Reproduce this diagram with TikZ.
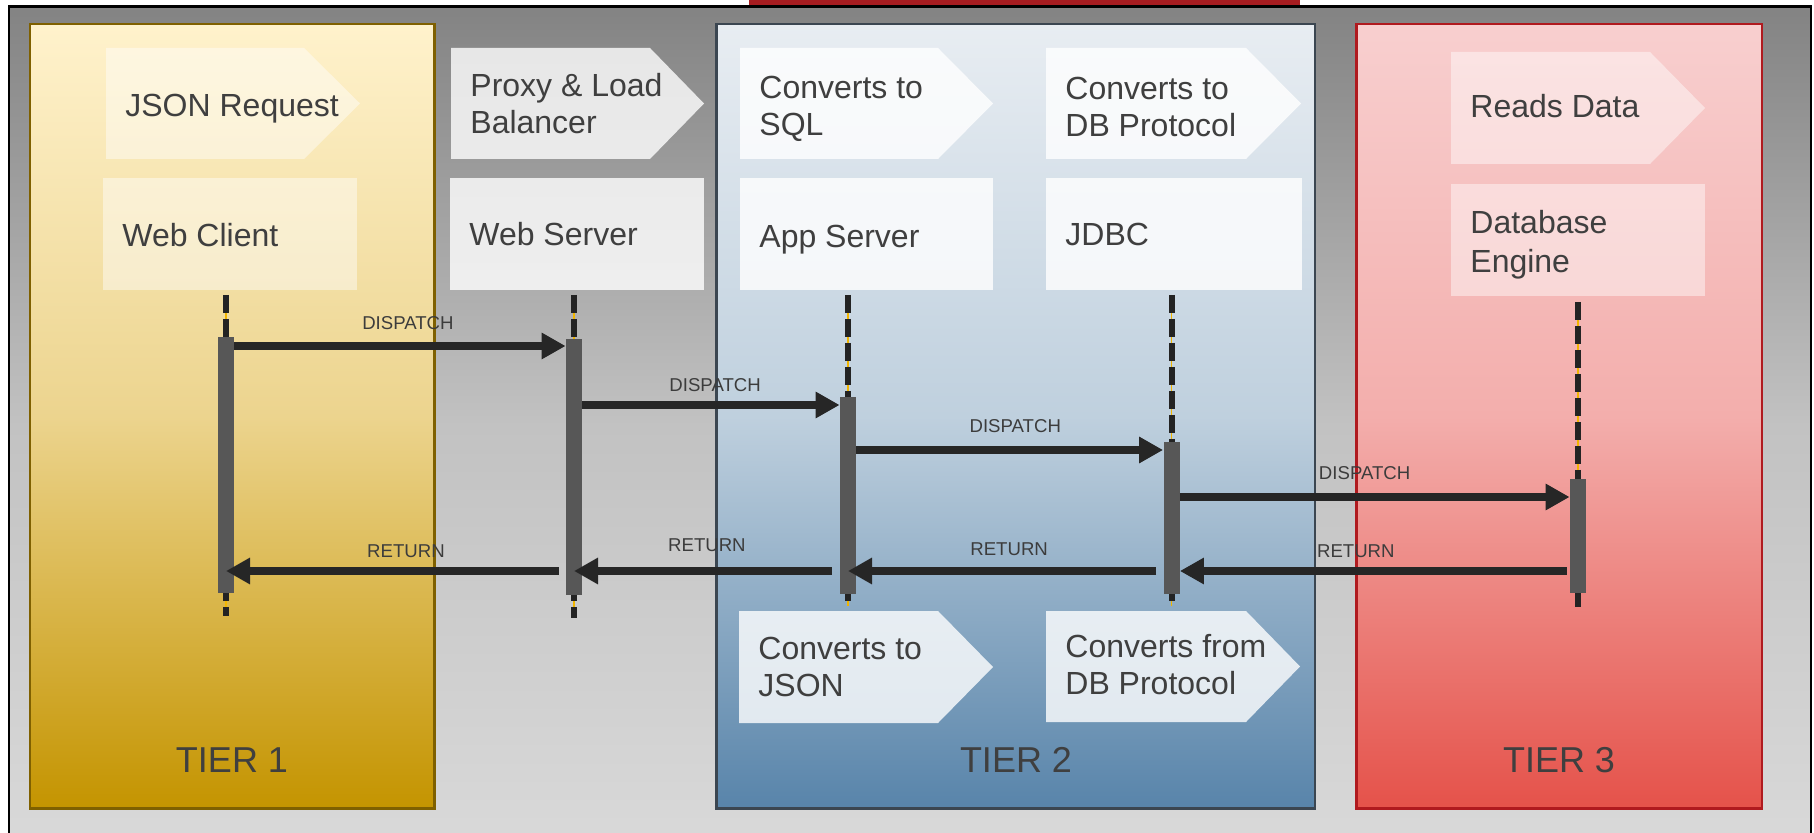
\documentclass[tikz,border=0pt]{standalone}
\usepackage{fontspec}
\setmainfont{Liberation Sans}
\usetikzlibrary{arrows.meta,calc}

\definecolor{bgtop}{HTML}{838383}
\definecolor{bgmid}{HTML}{C2C2C2}
\definecolor{bgbot}{HTML}{D9D9D9}
\definecolor{bandred}{HTML}{A61C20}
\definecolor{tOneTop}{HTML}{FFF2CC}
\definecolor{tOneMid}{HTML}{ECD48E}
\definecolor{tOneBot}{HTML}{C49400}
\definecolor{tOneLine}{HTML}{7F6000}
\definecolor{tTwoTop}{HTML}{E8EDF2}
\definecolor{tTwoMid}{HTML}{BFD0DE}
\definecolor{tTwoBot}{HTML}{5884AA}
\definecolor{tTwoLine}{HTML}{3B4651}
\definecolor{tThreeTop}{HTML}{F8CFCF}
\definecolor{tThreeMid}{HTML}{F3AEAC}
\definecolor{tThreeBot}{HTML}{E5524A}
\definecolor{tThreeLine}{HTML}{B01A1F}
\definecolor{txtcol}{HTML}{3F3F3F}
\definecolor{lblcol}{HTML}{3C3C3C}
\definecolor{arrowcol}{HTML}{262626}
\definecolor{barcol}{HTML}{575757}
\definecolor{dashcol}{HTML}{232323}
\definecolor{lifeyellow}{HTML}{F2B600}

% chevron outline: left, shoulder, tip, top, bottom, fill style
\newcommand\chevron[6]{\fill[#6] (#1,#4) -- (#2,#4) -- (#3,{(#4+#5)/2}) -- (#2,#5) -- (#1,#5) -- cycle;}

\begin{document}
\begin{tikzpicture}[x=0.5pt,y=-0.5pt,
  every node/.style={inner sep=0pt},
  txt/.style={font=\fontsize{16pt}{18.5pt}\selectfont, text=txtcol, align=left, anchor=west},
  softfill/.style={fill=white, fill opacity=0.45},
  strongfill/.style={fill=white, fill opacity=0.8},
  tierone/.style={line width=1.25pt, draw=tOneLine, top color=tOneTop, bottom color=tOneBot, middle color=tOneMid},
  tiertwo/.style={line width=1.25pt, draw=tTwoLine, top color=tTwoTop, bottom color=tTwoBot, middle color=tTwoMid},
  tierthree/.style={line width=1.25pt, draw=tThreeLine, top color=tThreeTop, bottom color=tThreeBot, middle color=tThreeMid},
  tierlbl/.style={font=\fontsize{18pt}{21pt}\selectfont, text=txtcol},
  lifeglow/.style={draw=lifeyellow, line width=0.6pt},
  lifedash/.style={draw=dashcol, line width=3pt, dash pattern=on 9pt off 3pt},
  actbar/.style={fill=barcol, minimum width=8pt},
  msg/.style={draw=arrowcol, line width=4pt, -{Triangle[length=12pt,width=12.5pt]}},
  lbl/.style={font=\fontsize{9.3pt}{11pt}\selectfont, text=lblcol, anchor=center}
]
\clip (0,0) rectangle (1814,833);
\fill[white] (0,0) rectangle (1814,833);

% header band and outer frame
\fill[bandred] (749,0) rectangle (1300,6);
\shade[top color=bgtop, bottom color=bgbot, middle color=bgmid] (9,6.5) rectangle (1811,845);
\draw[black, line width=1.25pt] (9,6.5) rectangle (1811,845);

% tiers
\draw[tierone] (30,24) rectangle (434.5,808.5);
\draw[tiertwo] (716.5,24) rectangle (1315,808.5);
\draw[tierthree] (1356.5,24) rectangle (1762,808.5);

\node[tierlbl] (tierA) at (232,760) {TIER 1};
\node[tierlbl] (tierB) at (1016,760) {TIER 2};
\node[tierlbl] (tierC) at (1559,760) {TIER 3};

% step chevrons
\chevron{106}{304}{360}{48}{159}{softfill}
\chevron{451}{650}{704}{48}{159}{strongfill}
\chevron{740}{938}{993}{48}{159}{strongfill}
\chevron{1046}{1246}{1301}{48}{159}{strongfill}
\chevron{1451}{1650}{1705}{52}{164}{softfill}
\chevron{739}{938}{993}{611}{723}{strongfill}
\chevron{1046}{1246}{1300}{611}{722}{strongfill}

\node[txt] (jsonreq) at (125,109) {JSON Request};
\node[txt] (proxy) at (470,104) {Proxy \& Load\\Balancer};
\node[txt] (tosql) at (759,109) {Converts to\\SQL};
\node[txt] (todbp) at (1065,106.5) {Converts to\\DB Protocol};
\node[txt] (reads) at (1470,106) {Reads Data};
\node[txt] (tojson) at (758,667) {Converts to\\JSON};
\node[txt] (fromdbp) at (1065,665) {Converts from\\DB Protocol};

% participant boxes
\fill[softfill] (103,178) rectangle (357,290);
\fill[strongfill] (450,178) rectangle (704,290);
\fill[strongfill] (740,178) rectangle (993,290);
\fill[strongfill] (1046,178) rectangle (1302,290);
\fill[softfill] (1451,184) rectangle (1705,296);

\node[txt] (webclient) at (122,235) {Web Client};
\node[txt] (webserver) at (469,234) {Web Server};
\node[txt] (appserver) at (759,240) {App Server};
\node[txt] (jdbc) at (1065,234) {JDBC};
\node[txt, font=\fontsize{16pt}{19.5pt}\selectfont] (dbengine) at (1470,245) {Database\\Engine};

% lifelines
\coordinate (wctop) at (226,295);    \coordinate (wcbot) at (226,616);
\coordinate (wstop) at (574,295);    \coordinate (wsbot) at (574,618);
\coordinate (aptop) at (848,295);    \coordinate (apbot) at (848,606);
\coordinate (jdtop) at (1171.5,295); \coordinate (jdbot) at (1171.5,606);
\coordinate (dbtop) at (1578,302);   \coordinate (dbbot) at (1578,607);
\foreach \a/\b in {wctop/wcbot, wstop/wsbot, aptop/apbot, jdtop/jdbot, dbtop/dbbot}{
  \draw[lifeglow] (\a) -- (\b);
  \draw[lifedash] (\a) -- (\b);
}

% activation bars
\node[actbar, minimum height=128pt] (wcbar) at (226,465) {};
\node[actbar, minimum height=128pt] (wsbar) at (574,467) {};
\node[actbar, minimum height=98.5pt] (apbar) at (848,495.5) {};
\node[actbar, minimum height=76pt] (jdbar) at (1171.5,518) {};
\node[actbar, minimum height=57pt] (dbbar) at (1578,536) {};

% calls
\draw[msg] (wcbar.east |- 0,346) -- (wsbar.west |- 0,346)
  node[lbl, pos=0.524, yshift=11.5pt] {DISPATCH};
\draw[msg] (wsbar.east |- 0,405) -- (apbar.west |- 0,405)
  node[lbl, pos=0.516, yshift=10pt] {DISPATCH};
\draw[msg] (apbar.east |- 0,450) -- (jdbar.west |- 0,450)
  node[lbl, pos=0.518, yshift=12pt] {DISPATCH};
\draw[msg] (jdbar.east |- 0,497) -- (dbbar.west |- 0,497)
  node[lbl, pos=0.474, yshift=12pt] {DISPATCH};

% returns
\draw[msg] ($(wsbar.west |- 0,571)+(-7,0)$) -- (wcbar.center |- 0,571)
  node[lbl, pos=0.459, yshift=10pt] {RETURN};
\draw[msg] ($(apbar.west |- 0,571)+(-8,0)$) -- (wsbar.center |- 0,571)
  node[lbl, pos=0.484, yshift=13pt] {RETURN};
\draw[msg] ($(jdbar.west |- 0,571)+(-7,0)$) -- (apbar.center |- 0,571)
  node[lbl, pos=0.477, yshift=11pt] {RETURN};
\draw[msg] ($(dbbar.west |- 0,571)+(-3,0)$) -- (jdbar.east |- 0,571)
  node[lbl, pos=0.545, yshift=10pt] {RETURN};
\end{tikzpicture}
\end{document}
